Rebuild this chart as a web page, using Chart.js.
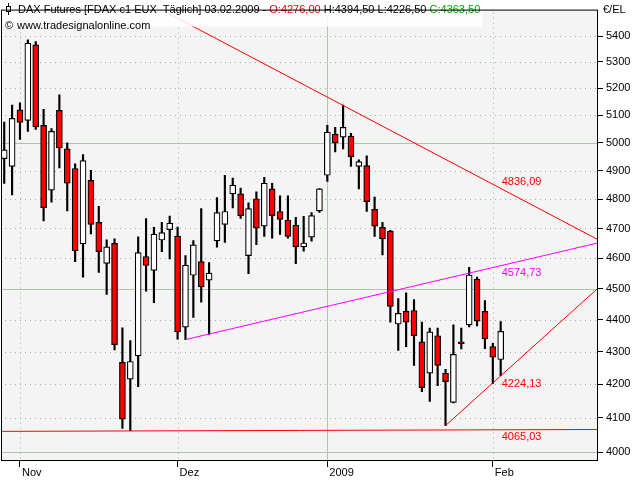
<!DOCTYPE html>
<html lang="de">
<head>
<meta charset="utf-8">
<title>DAX Futures</title>
<script src="https://cdn.jsdelivr.net/npm/chart.js@4.4.1/dist/chart.umd.min.js"></script>
<style>
  html, body { margin: 0; padding: 0; background: #fff; }
  #wrap { width: 640px; height: 480px; }
</style>
</head>
<body>
<div id="wrap"><canvas id="chartDax" width="640" height="480"></canvas></div>
<script>
// Handelstage (Tageskerzen)
const tage = [
  '30.10.2008', '31.10.2008',
  '03.11.2008', '04.11.2008', '05.11.2008', '06.11.2008', '07.11.2008',
  '10.11.2008', '11.11.2008', '12.11.2008', '13.11.2008', '14.11.2008',
  '17.11.2008', '18.11.2008', '19.11.2008', '20.11.2008', '21.11.2008',
  '24.11.2008', '25.11.2008', '26.11.2008', '27.11.2008', '28.11.2008',
  '01.12.2008', '02.12.2008', '03.12.2008', '04.12.2008', '05.12.2008',
  '08.12.2008', '09.12.2008', '10.12.2008', '11.12.2008', '12.12.2008',
  '15.12.2008', '16.12.2008', '17.12.2008', '18.12.2008', '19.12.2008',
  '22.12.2008', '23.12.2008', '29.12.2008', '30.12.2008',
  '02.01.2009', '05.01.2009', '06.01.2009', '07.01.2009', '08.01.2009', '09.01.2009',
  '12.01.2009', '13.01.2009', '14.01.2009', '15.01.2009', '16.01.2009',
  '19.01.2009', '20.01.2009', '21.01.2009', '22.01.2009', '23.01.2009',
  '26.01.2009', '27.01.2009', '28.01.2009', '29.01.2009', '30.01.2009',
  '02.02.2009', '03.02.2009'
];

const eroeffnung = [4943, 4915, 5120, 5081, 5366, 5063, 4832, 5118, 4978, 4908, 4648, 4866, 4721, 4583, 4650, 4267, 4216, 4287, 4606, 4560, 4661, 4696,
  4674, 4377, 4544, 4589, 4528, 4658, 4714, 4819, 4819, 4609, 4802, 4708, 4836, 4758, 4728, 4711, 4638, 4671, 4760,
  4884, 5031, 5020, 5024, 4915, 4918, 4765, 4704, 4691, 4387, 4427, 4430, 4331, 4234, 4350, 4234, 4146, 4331, 4384, 4531, 4427,
  4316, 4276];
const hoch = [5075, 5138, 5146, 5385, 5378, 5122, 5051, 5176, 5000, 4924, 4957, 4901, 4776, 4662, 4665, 4375, 4335, 4672, 4734, 4704, 4721, 4742,
  4705, 4609, 4659, 4768, 4586, 4806, 4884, 4874, 4839, 4788, 4826, 4877, 4856, 4812, 4812, 4738, 4741, 4754, 4837,
  5063, 5056, 5138, 5034, 4939, 4953, 4808, 4721, 4694, 4468, 4487, 4465, 4393, 4374, 4374, 4246, 4384, 4374, 4570, 4538, 4462,
  4326, 4394.5];
const tief = [4855, 4815, 5012, 5041, 5048, 4726, 4790, 4910, 4760, 4589, 4538, 4682, 4553, 4482, 4306, 4069, 4062, 4193, 4492, 4455, 4622, 4598,
  4339, 4338, 4408, 4457, 4354, 4637, 4653, 4770, 4734, 4549, 4645, 4673, 4667, 4680, 4667, 4582, 4624, 4657, 4755,
  4862, 4967, 4978, 4915, 4836, 4758, 4673, 4611, 4393, 4304, 4316, 4258, 4178, 4149, 4196, 4077, 4144, 4309, 4378, 4381, 4310,
  4202, 4226.5];
const schluss = [4974, 5089, 5074, 5372, 5057, 4771, 5041, 4981, 4856, 4625, 4936, 4714, 4622, 4638, 4322, 4096, 4270, 4619, 4576, 4681, 4686, 4718,
  4362, 4577, 4645, 4506, 4551, 4754, 4758, 4849, 4744, 4768, 4701, 4856, 4744, 4731, 4673, 4638, 4651, 4744, 4836,
  5038, 4999, 5056, 4950, 4932, 4792, 4708, 4665, 4443, 4421, 4393, 4350, 4190, 4362, 4258, 4208, 4292, 4325, 4545, 4396, 4340,
  4283, 4363.5];

// Achsen
const monatsStart = [2, 22, 41, 62];
const monatsNamen = ['Nov', 'Dez', '2009', 'Feb'];
const jahresWechsel = [41];
const kursTicks = [4000, 4100, 4200, 4300, 4400, 4500, 4600, 4700, 4800, 4900, 5000, 5100, 5200, 5300, 5400];
const kursHauptlinien = [4000, 4500, 5000];

// Trendlinien (x = Kerzenindex, y = Kurs)
const abwaertsX = [20.4, 75.22];
const abwaertsY = [5496, 4664];
const dreieckX = [23, 75.22];
const dreieckY = [4338, 4650.5];
const aufwaertsX = [56, 75.22];
const aufwaertsY = [4077, 4499];
const stuetzeX = [-0.28, 75.22];
const stuetzeY = [4060, 4065.5];

const linienTexte = ['4836,09', '4574,73', '4224,13', '4065,03'];
const linienWerte = [4836.09, 4574.73, 4224.13, 4065.03];

const schrift = '"Liberation Sans", Arial, sans-serif';
const rot = '#ff0000';
const magenta = '#ff00ff';
const punktFarbe = '#94b894';
const linienFarbe = '#b0c4ac';

const koerper = tage.map((t, i) => ({ x: i, y: [eroeffnung[i], schluss[i]] }));
const dochte = tage.map((t, i) => ({ x: i, y: [tief[i], hoch[i]] }));
const koerperFarben = tage.map((t, i) => schluss[i] >= eroeffnung[i] ? '#ffffff' : rot);
const linie = (xs, ys) => xs.map((x, i) => ({ x: x, y: ys[i] }));
const komma = v => v.toFixed(2).replace('.', ',');

const trendLinie = (daten, farbe) => ({
    type: 'line',
    data: daten,
    borderColor: farbe,
    borderWidth: 1,
    pointRadius: 0,
    fill: false,
    tension: 0,
    order: 0
});

// Hintergrund, Gitter, Rahmen, Kopfzeile und Beschriftungen der Linien
const rahmen = {
    id: 'rahmen',
    beforeDraw(chart) {
        const { ctx, chartArea: a } = chart;
        ctx.save();
        ctx.fillStyle = '#ffffff';
        ctx.fillRect(0, 0, chart.width, chart.height);
        ctx.fillStyle = '#f4f4f4';
        ctx.fillRect(a.left, a.top, a.right - a.left, a.bottom - a.top);
        ctx.restore();
    },
    beforeDatasetsDraw(chart) {
        const { ctx, chartArea: a, scales } = chart;
        ctx.save();
        // punktierte Gitterlinien als Einzelpunkte, durchgezogene als Linie
        scales.y.ticks.forEach(t => {
            const py = Math.round(scales.y.getPixelForValue(t.value));
            if (kursHauptlinien.includes(t.value)) {
                ctx.fillStyle = linienFarbe;
                ctx.fillRect(a.left, py, a.right - a.left, 1);
            } else {
                ctx.fillStyle = punktFarbe;
                for (let px = a.left + 3; px < a.right; px += 5) ctx.fillRect(px, py, 1, 1);
            }
        });
        scales.x.ticks.forEach(t => {
            const px = Math.round(scales.x.getPixelForValue(t.value));
            if (jahresWechsel.includes(t.value)) {
                ctx.fillStyle = linienFarbe;
                ctx.fillRect(px, a.top, 1, a.bottom - a.top);
            } else {
                ctx.fillStyle = punktFarbe;
                for (let py = a.top + 3; py < a.bottom; py += 5) ctx.fillRect(px, py, 1, 1);
            }
        });
        ctx.restore();
    },
    afterDraw(chart) {
        const { ctx, chartArea: a, scales } = chart;
        ctx.save();

        // Werte der Trendlinien
        ctx.font = '11px ' + schrift;
        ctx.textAlign = 'left';
        const lx = scales.x.getPixelForValue(63) + 1;
        const farben = [rot, magenta, rot, rot];
        linienTexte.forEach((txt, i) => {
            const py = scales.y.getPixelForValue(linienWerte[i]);
            ctx.fillStyle = farben[i];
            if (i === 0) {
                ctx.textBaseline = 'bottom';
                ctx.fillText(txt, lx, py - 1);
            } else {
                ctx.textBaseline = 'top';
                ctx.fillText(txt, lx, py + 2);
            }
        });

        // Kopfzeile
        const n = tage.length - 1;
        const teile = [
            ['DAX Futures [FDAX c1 EUX  Täglich] ' + tage[n] + ' - ', '#000000'],
            ['O:' + komma(eroeffnung[n]), rot],
            [' H:' + komma(hoch[n]) + ' L:' + komma(tief[n]) + ' ', '#000000'],
            ['C:' + komma(schluss[n]), '#00a800']
        ];
        const breite = teile.reduce((s, [txt]) => s + ctx.measureText(txt).width, 0);
        ctx.fillStyle = 'rgba(255,255,255,0.85)';
        ctx.fillRect(a.left, a.top + 1, 18 + breite + 2 - a.left, 16);

        ctx.strokeStyle = '#000';
        ctx.lineWidth = 1;
        ctx.beginPath();
        ctx.moveTo(8.5, 3);
        ctx.lineTo(8.5, 15);
        ctx.stroke();
        ctx.fillStyle = '#fff';
        ctx.fillRect(6.5, 6.5, 4, 5);
        ctx.strokeRect(6.5, 6.5, 4, 5);

        ctx.textBaseline = 'alphabetic';
        let tx = 18;
        teile.forEach(([txt, farbe]) => {
            ctx.fillStyle = farbe;
            ctx.fillText(txt, tx, 13);
            tx += ctx.measureText(txt).width;
        });
        ctx.fillStyle = '#000';
        ctx.fillText('©', 5, 29);
        ctx.fillText('www.tradesignalonline.com', 17, 29);

        // Einheit der Kursachse
        ctx.fillText('€/EL', 603, 13);

        // Rahmen
        ctx.strokeStyle = '#000';
        ctx.lineWidth = 1;
        ctx.strokeRect(a.left - 0.5, a.top + 0.5, a.right - a.left + 1, a.bottom - a.top);
        ctx.restore();
    }
};

const ctxDax = document.getElementById('chartDax').getContext('2d');

new Chart(ctxDax, {
    type: 'bar',
    data: {
        datasets: [
            {
                type: 'bar',
                data: koerper,
                backgroundColor: koerperFarben,
                borderColor: '#000000',
                borderWidth: 1.2,
                borderSkipped: false,
                barThickness: 6,
                minBarLength: 1,
                grouped: false,
                order: 1
            },
            {
                type: 'bar',
                data: dochte,
                backgroundColor: '#000000',
                borderWidth: 0,
                barThickness: 1.5,
                grouped: false,
                order: 2
            },
            trendLinie(linie(abwaertsX, abwaertsY), rot),
            trendLinie(linie(dreieckX, dreieckY), magenta),
            trendLinie(linie(aufwaertsX, aufwaertsY), rot),
            trendLinie(linie(stuetzeX, stuetzeY), rot)
        ]
    },
    options: {
        responsive: false,
        animation: false,
        events: [],
        layout: { padding: { left: 2, top: 0, right: 0, bottom: 0 } },
        plugins: { legend: { display: false }, tooltip: { enabled: false } },
        scales: {
            x: {
                type: 'linear',
                min: -0.28,
                max: 75.22,
                offset: false,
                afterBuildTicks: s => { s.ticks = monatsStart.map(v => ({ value: v })); },
                afterFit: s => { s.height = 20; },
                ticks: {
                    callback: v => monatsNamen[monatsStart.indexOf(v)],
                    align: 'start',
                    labelOffset: 2,
                    padding: -1,
                    maxRotation: 0,
                    autoSkip: false,
                    color: '#000',
                    font: { family: schrift, size: 11 }
                },
                grid: {
                    offset: false,
                    drawOnChartArea: false,
                    drawTicks: true,
                    tickLength: 7,
                    tickColor: '#000',
                    tickBorderDash: []
                },
                border: { display: false }
            },
            y: {
                type: 'logarithmic',
                position: 'right',
                min: 3977,
                max: 5504,
                afterBuildTicks: s => { s.ticks = kursTicks.map(v => ({ value: v })); },
                afterFit: s => { s.width = 43; },
                ticks: {
                    callback: v => String(v),
                    padding: 3,
                    autoSkip: false,
                    color: '#000',
                    font: { family: schrift, size: 11 }
                },
                grid: {
                    drawOnChartArea: false,
                    drawTicks: true,
                    tickLength: 6,
                    tickColor: '#000',
                    tickBorderDash: []
                },
                border: { display: false }
            }
        }
    },
    plugins: [rahmen]
});
</script>
</body>
</html>
